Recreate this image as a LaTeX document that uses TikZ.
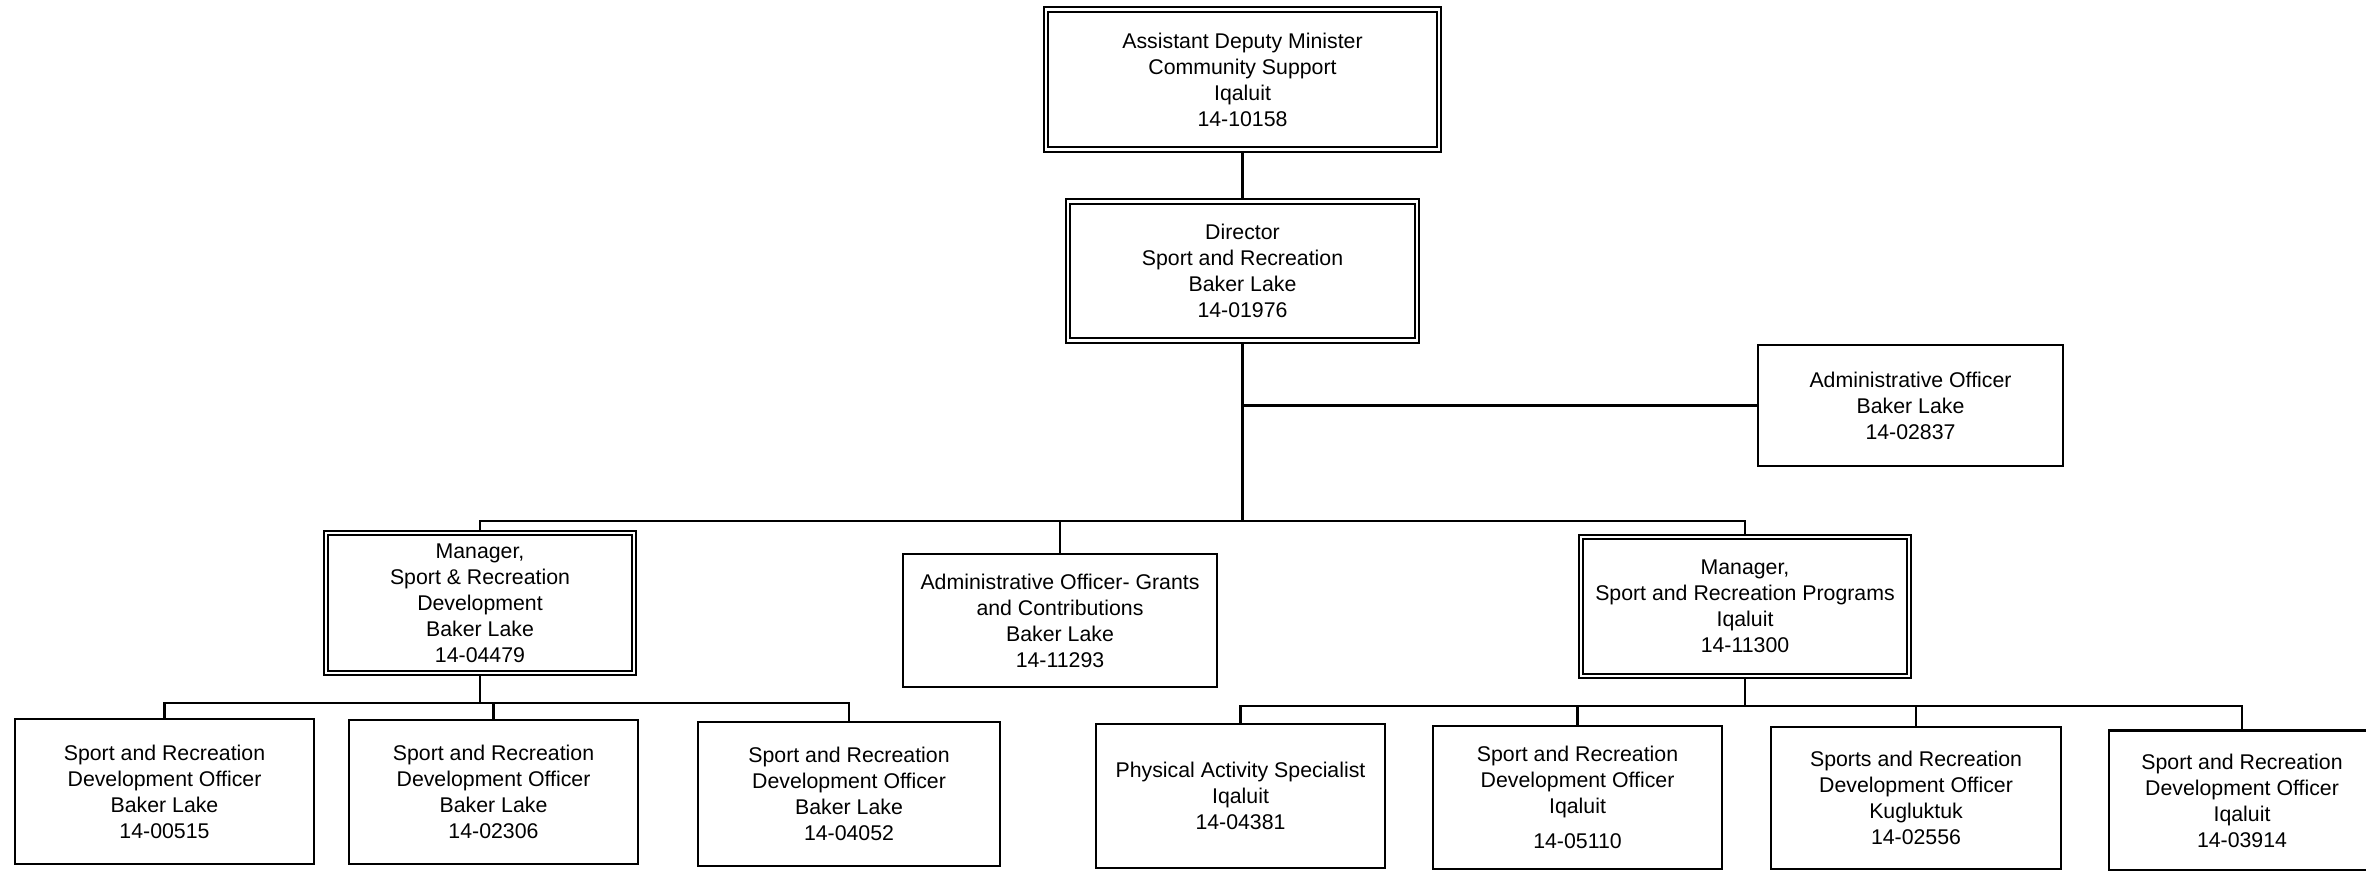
\documentclass[tikz,border=0pt]{standalone}
\usepackage{fontspec}
\setmainfont{Liberation Sans}
\usetikzlibrary{backgrounds}
\tikzset{
  box/.style={draw, line width=2.2pt, fill=white, inner sep=0pt, align=center,
    font=\fontsize{21.3}{26}\selectfont},
  dbox/.style={box, double, double distance=2.6pt, line width=1.8pt},
  conn/.style={line width=2.2pt},
}
\begin{document}
\begin{tikzpicture}[x=1pt,y=-1pt]
\useasboundingbox (0,0) rectangle (2366,870);
% top levels
\node[dbox, minimum width=393pt, minimum height=140pt] (adm) at (1242.5,79.5)
  {Assistant Deputy Minister\\Community Support\\Iqaluit\\14-10158};
\node[dbox, minimum width=349pt, minimum height=139pt] (dir) at (1242.5,271)
  {Director\\Sport and Recreation\\Baker Lake\\14-01976};
\node[box, minimum width=305pt, minimum height=121pt] (ao) at (1910.5,405.5)
  {Administrative Officer\\Baker Lake\\14-02837};
% middle level
\node[dbox, minimum width=308pt, minimum height=140pt] (mdev) at (480,603)
  {Manager,\\Sport \& Recreation\\Development\\Baker Lake\\14-04479};
\node[box, minimum width=314pt, minimum height=133pt] (grants) at (1060,620.5)
  {Administrative Officer- Grants\\and Contributions\\Baker Lake\\14-11293};
\node[dbox, minimum width=328pt, minimum height=139pt] (mprog) at (1745,606.5)
  {Manager,\\Sport and Recreation Programs\\Iqaluit\\14-11300};
% bottom level
\node[box, minimum width=299pt, minimum height=145pt] (sa) at (164.5,791.5)
  {Sport and Recreation\\Development Officer\\Baker Lake\\14-00515};
\node[box, minimum width=289pt, minimum height=144pt] (sb) at (493.5,792)
  {Sport and Recreation\\Development Officer\\Baker Lake\\14-02306};
\node[box, minimum width=302pt, minimum height=144pt] (sc) at (849,794)
  {Sport and Recreation\\Development Officer\\Baker Lake\\14-04052};
\node[box, minimum width=289pt, minimum height=144pt] (pas) at (1240.5,796)
  {Physical Activity Specialist\\Iqaluit\\14-04381};
\node[box, minimum width=289pt, minimum height=143pt] (sd) at (1577.5,797.5)
  {Sport and Recreation\\Development Officer\\Iqaluit\\[9pt]14-05110};
\node[box, minimum width=290pt, minimum height=142pt] (se) at (1916,798)
  {Sports and Recreation\\Development Officer\\Kugluktuk\\14-02556};
\node[box, minimum width=266pt, minimum height=140pt] (sf) at (2242,800.5)
  {Sport and Recreation\\Development Officer\\Iqaluit\\14-03914};
% connectors
\coordinate (busL) at (480,521);
\coordinate (busR) at (1745,521);
\coordinate (lb) at (480,703);
\coordinate (rb) at (1745,706);
\begin{scope}[on background layer]
\draw[conn] (adm.south) -- (dir.north);
\draw[conn] (dir.south) -- (dir.south |- busL);
\draw[conn] (dir.south |- ao.west) -- (ao.west);
\draw[conn] (mdev.north) -- (busL) -- (busR) -- (mprog.north);
\draw[conn] (grants.north |- busL) -- (grants.north);
\draw[conn] (mdev.south) -- (lb);
\draw[conn] (sa.north) -- (sa.north |- lb) -- (sc.north |- lb) -- (sc.north);
\draw[conn] (sb.north |- lb) -- (sb.north);
\draw[conn] (mprog.south) -- (rb);
\draw[conn] (pas.north) -- (pas.north |- rb) -- (sf.north |- rb) -- (sf.north);
\draw[conn] (sd.north |- rb) -- (sd.north);
\draw[conn] (se.north |- rb) -- (se.north);
\end{scope}
\end{tikzpicture}
\end{document}
